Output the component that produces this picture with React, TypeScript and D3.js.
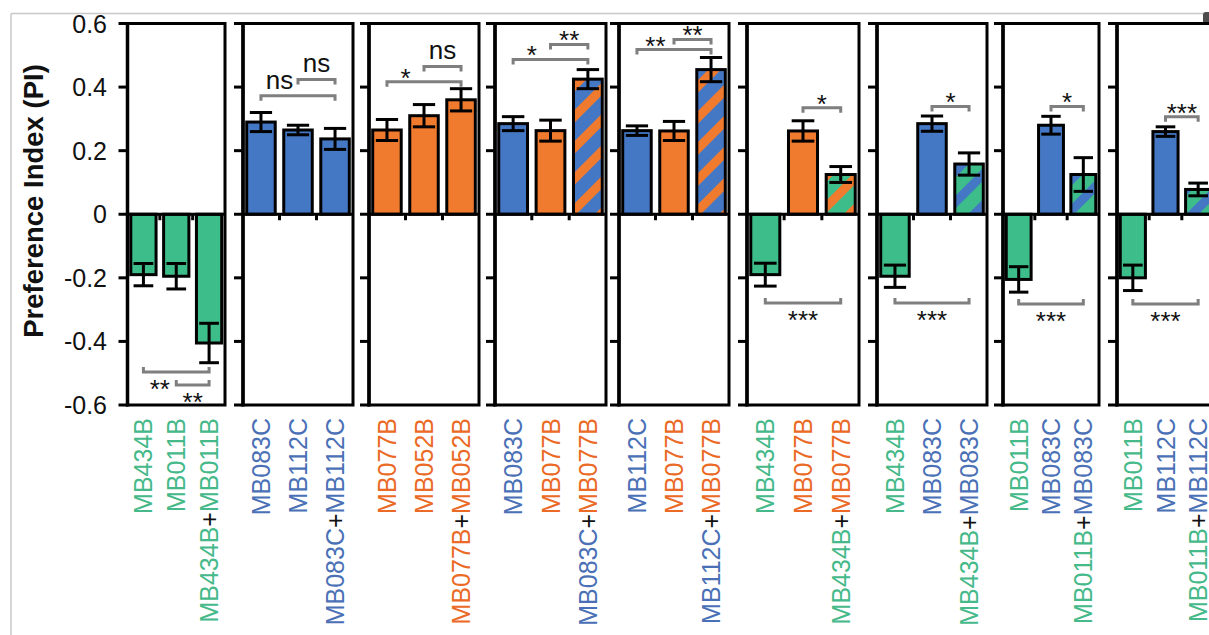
import React from "react";
import * as d3 from "d3";

// ---------- data ----------
const panelCategories: string[][] = [
  ["MB434B", "MB011B", "MB434B+MB011B"],
  ["MB083C", "MB112C", "MB083C+MB112C"],
  ["MB077B", "MB052B", "MB077B+MB052B"],
  ["MB083C", "MB077B", "MB083C+MB077B"],
  ["MB112C", "MB077B", "MB112C+MB077B"],
  ["MB434B", "MB077B", "MB434B+MB077B"],
  ["MB434B", "MB083C", "MB434B+MB083C"],
  ["MB011B", "MB083C", "MB011B+MB083C"],
  ["MB011B", "MB112C", "MB011B+MB112C"],
];

const panelMeans: number[][] = [
  [-0.19, -0.195, -0.405],
  [0.29, 0.265, 0.237],
  [0.265, 0.31, 0.36],
  [0.285, 0.263, 0.425],
  [0.263, 0.262, 0.455],
  [-0.19, 0.262, 0.125],
  [-0.195, 0.285, 0.158],
  [-0.205, 0.28, 0.125],
  [-0.2, 0.26, 0.078],
];

const panelSems: number[][] = [
  [0.035, 0.04, 0.062],
  [0.03, 0.015, 0.033],
  [0.033, 0.035, 0.035],
  [0.022, 0.033, 0.03],
  [0.015, 0.03, 0.038],
  [0.036, 0.032, 0.025],
  [0.035, 0.024, 0.035],
  [0.04, 0.028, 0.053],
  [0.04, 0.015, 0.02],
];

type Bracket = { from: number; to: number; at: number; label: string; pos: "left" | "mid" };
const panelBrackets: Bracket[][] = [
  [
    { from: 0, to: 2, at: -0.496, label: "**", pos: "left" },
    { from: 1, to: 2, at: -0.537, label: "**", pos: "mid" },
  ],
  [
    { from: 0, to: 2, at: 0.373, label: "ns", pos: "left" },
    { from: 1, to: 2, at: 0.424, label: "ns", pos: "mid" },
  ],
  [
    { from: 0, to: 2, at: 0.417, label: "*", pos: "left" },
    { from: 1, to: 2, at: 0.465, label: "ns", pos: "mid" },
  ],
  [
    { from: 0, to: 2, at: 0.487, label: "*", pos: "left" },
    { from: 1, to: 2, at: 0.534, label: "**", pos: "mid" },
  ],
  [
    { from: 0, to: 2, at: 0.518, label: "**", pos: "left" },
    { from: 1, to: 2, at: 0.55, label: "**", pos: "mid" },
  ],
  [
    { from: 1, to: 2, at: 0.335, label: "*", pos: "mid" },
    { from: 0, to: 2, at: -0.279, label: "***", pos: "mid" },
  ],
  [
    { from: 1, to: 2, at: 0.339, label: "*", pos: "mid" },
    { from: 0, to: 2, at: -0.279, label: "***", pos: "mid" },
  ],
  [
    { from: 1, to: 2, at: 0.339, label: "*", pos: "mid" },
    { from: 0, to: 2, at: -0.282, label: "***", pos: "mid" },
  ],
  [
    { from: 1, to: 2, at: 0.307, label: "***", pos: "mid" },
    { from: 0, to: 2, at: -0.282, label: "***", pos: "mid" },
  ],
];

const yTicks: number[] = [-0.6, -0.4, -0.2, 0, 0.2, 0.4, 0.6];
const yDomain: [number, number] = [-0.6, 0.6];
const yTitle = "Preference Index (PI)";

const lineGroup: Record<string, string> = {
  MB434B: "green",
  MB011B: "green",
  MB083C: "blue",
  MB112C: "blue",
  MB077B: "orange",
  MB052B: "orange",
};

// ---------- layout / style ----------
const W = 1209;
const H = 635;
const panelLeft = [127.5, 243, 369, 495, 619, 747, 877, 1003, 1117];
const panelWidth = [97.5, 110, 110, 111, 110, 112, 110, 96, 97];
const plotTop = 23.5;
const plotBottom = 405;
const labelTop = 418;

const barFill: Record<string, string> = {
  green: "#3dbd8a",
  blue: "#4478c4",
  orange: "#f07a2e",
};
const textFill: Record<string, string> = {
  green: "#45b989",
  blue: "#4a70b6",
  orange: "#ea6a26",
};
const bracketColor = "#7f7f7f";
const FONT = "'Liberation Sans', Arial, Helvetica, sans-serif";

function fillFor(cat: string): string {
  const parts = cat.split("+");
  const groups = parts.map((p) => lineGroup[p]);
  if (groups.length === 1 || groups[0] === groups[1]) return barFill[groups[0]];
  return `url(#stripe-${groups[0]}-${groups[1]})`;
}

const stripePairs: [string, string][] = [
  ["blue", "orange"],
  ["green", "orange"],
  ["green", "blue"],
];

export default function App() {
  const y = d3.scaleLinear().domain(yDomain).range([plotBottom, plotTop]);
  const fs = 26;

  return (
    <svg
      width={W}
      height={H}
      style={{ position: "absolute", left: 0, top: 0, background: "#fff" }}
      fontFamily={FONT}
    >
      <defs>
        {stripePairs.map(([a, b]) => (
          <pattern
            key={a + b}
            id={`stripe-${a}-${b}`}
            patternUnits="userSpaceOnUse"
            width={22}
            height={22}
            patternTransform="rotate(45)"
          >
            <rect width={22} height={22} fill={barFill[a]} />
            <rect width={9} height={22} fill={barFill[b]} />
          </pattern>
        ))}
      </defs>

      {/* figure frame remnants */}
      <line x1={11} y1={13.5} x2={1204} y2={13.5} stroke="#c8c8c8" strokeWidth={1.5} />
      <line x1={11} y1={13.5} x2={11} y2={H} stroke="#c8c8c8" strokeWidth={1.5} />
      <rect x={1203} y={12} width={12} height={13} rx={3} fill="#4d4d4d" />

      {/* y title */}
      <text
        transform={`translate(33,201) rotate(-90)`}
        textAnchor="middle"
        dy="0.35em"
        fontWeight="bold"
        fontSize={27.5}
        fill="#111"
      >
        {yTitle}
      </text>

      {/* y tick labels (first panel only) */}
      {yTicks.map((t) => (
        <text key={t} x={107} y={y(t)} dy="0.36em" textAnchor="end" fontSize={25} fill="#111">
          {t === 0 ? "0" : t.toFixed(1)}
        </text>
      ))}

      {panelCategories.map((cats, pi) => {
        const x0 = panelLeft[pi];
        const w = panelWidth[pi];
        const x = d3
          .scaleBand<string>()
          .domain(cats.map((_, i) => String(i)))
          .range([x0, x0 + w])
          .paddingInner(0.23)
          .paddingOuter(0.1);
        const bw = x.bandwidth();
        const cx = (i: number) => (x(String(i)) as number) + bw / 2;
        const means = panelMeans[pi];
        const sems = panelSems[pi];
        const capW = bw * 0.78;
        return (
          <g key={pi}>
            {/* bars */}
            {cats.map((c, i) => {
              const v = means[i];
              const top = y(Math.max(0, v));
              const bot = y(Math.min(0, v));
              return (
                <rect
                  key={"b" + i}
                  x={x(String(i))}
                  y={top}
                  width={bw}
                  height={bot - top}
                  fill={fillFor(c)}
                  stroke="#000"
                  strokeWidth={3}
                />
              );
            })}
            {/* error bars */}
            {cats.map((c, i) => {
              const lo = y(means[i] - sems[i]);
              const hi = y(means[i] + sems[i]);
              const xc = cx(i);
              return (
                <g key={"e" + i} stroke="#000" strokeWidth={3}>
                  <line x1={xc} x2={xc} y1={lo} y2={hi} />
                  <line x1={xc - capW / 2} x2={xc + capW / 2} y1={lo} y2={lo} />
                  <line x1={xc - capW / 2} x2={xc + capW / 2} y1={hi} y2={hi} />
                </g>
              );
            })}
            {/* zero line and category ticks */}
            <line x1={x0} x2={x0 + w} y1={y(0)} y2={y(0)} stroke="#000" strokeWidth={3} />
            {cats.slice(1).map((_, i) => {
              const xb = ((x(String(i)) as number) + bw + (x(String(i + 1)) as number)) / 2;
              return (
                <line key={"t" + i} x1={xb} x2={xb} y1={y(0)} y2={y(0) + 6} stroke="#000" strokeWidth={3} />
              );
            })}
            {/* left axis ticks */}
            {yTicks.map((t) => (
              <line key={"yt" + t} x1={x0 - 9} x2={x0} y1={y(t)} y2={y(t)} stroke="#000" strokeWidth={3} />
            ))}
            {/* frame */}
            <rect
              x={x0}
              y={plotTop}
              width={w}
              height={plotBottom - plotTop}
              fill="none"
              stroke="#000"
              strokeWidth={3}
            />
            <line x1={x0} x2={x0} y1={plotTop - 1.5} y2={plotBottom + 1.5} stroke="#000" strokeWidth={3.5} />

            {/* significance brackets */}
            {panelBrackets[pi].map((b, bi) => {
              const by = y(b.at);
              const xa = cx(b.from);
              const xz = cx(b.to);
              const up = b.at > 0;
              const tick = up ? 5 : -5;
              const lx = b.pos === "left" ? (cx(b.from) + cx(b.from + 1)) / 2 : (xa + xz) / 2;
              const isStars = b.label.startsWith("*");
              let ly: number;
              if (isStars) {
                const center = up ? by - 10 : by + 11;
                ly = center + 0.575 * fs;
              } else {
                ly = by - 7;
              }
              return (
                <g key={"s" + bi}>
                  <path
                    d={`M${xa},${by + tick}V${by}H${xz}V${by + tick}`}
                    fill="none"
                    stroke={bracketColor}
                    strokeWidth={3}
                  />
                  <text x={lx} y={ly} textAnchor="middle" fontSize={fs} fill="#111">
                    {b.label}
                  </text>
                </g>
              );
            })}

            {/* category labels */}
            {cats.map((c, i) => {
              const parts = c.split("+");
              return (
                <text
                  key={"l" + i}
                  transform={`translate(${cx(i)},${labelTop}) rotate(-90)`}
                  textAnchor="end"
                  dy="0.36em"
                  fontSize={25}
                >
                  {parts.map((p, k) => (
                    <React.Fragment key={k}>
                      {k > 0 && <tspan fill="#111">+</tspan>}
                      <tspan fill={textFill[lineGroup[p]]}>{p}</tspan>
                    </React.Fragment>
                  ))}
                </text>
              );
            })}
          </g>
        );
      })}
    </svg>
  );
}
